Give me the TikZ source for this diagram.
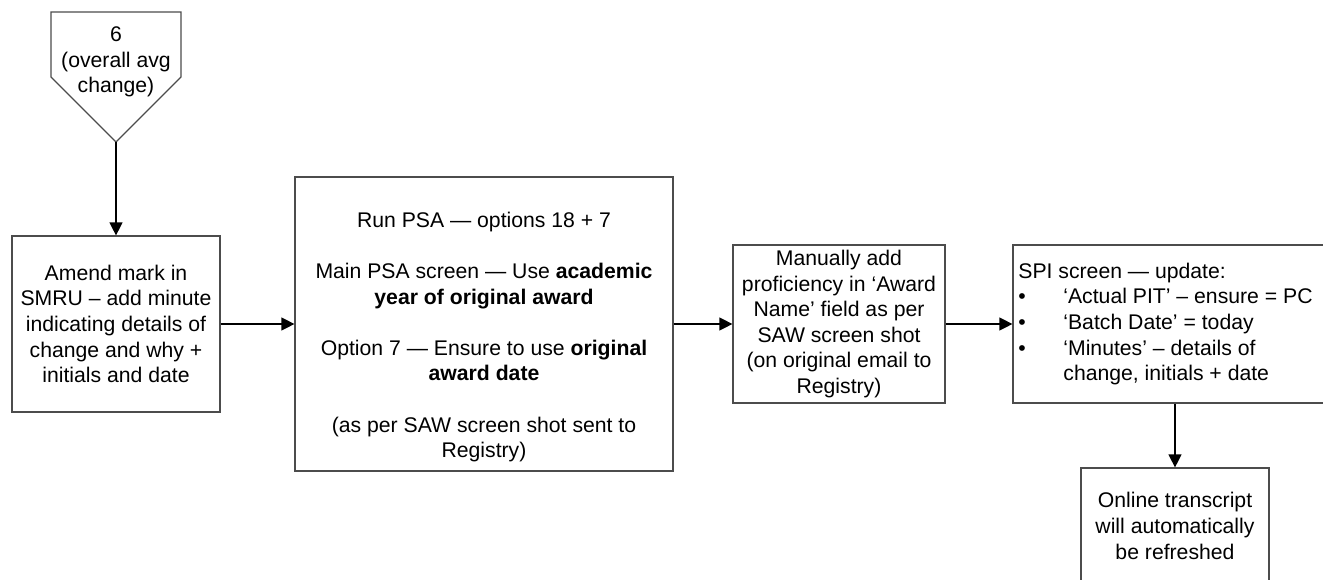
\documentclass[tikz,border=0pt]{standalone}
\usepackage{fontspec}
\setmainfont{Liberation Sans}
\usepackage{tikz}
\usetikzlibrary{arrows.meta}

\tikzset{
  stepbox/.style={draw=black!70, line width=0.6pt, inner sep=0pt, align=center},
  flow/.style={draw=black, line width=0.6pt, -{Triangle[length=6.5pt,width=6.5pt]}}
}

\begin{document}
\begin{tikzpicture}[x=0.5pt, y=-0.5pt, font=\fontsize{10.6pt}{12.8pt}\selectfont]
  \useasboundingbox (0,0) rectangle (1323,579);

  \draw[draw=black!70, line width=0.6pt] (51,12) -- (181,12) -- (181,77) -- (116,142) -- (51,77) -- cycle;
  \node[align=center] (offpage) at (116,62) {6\\(overall avg\\change)};
  \coordinate (offtip) at (116,142);

  \node[stepbox, minimum width=104pt, minimum height=88pt] (amend) at (116,324)
    {Amend mark in\\SMRU – add minute\\indicating details of\\change and why +\\initials and date};

  \node[stepbox, minimum width=189pt, minimum height=147pt] (psa) at (484,324) {};
  \node[align=center] (psatext) at (484,337)
    {Run PSA — options 18 + 7\\[12.8pt]
     Main PSA screen — Use \textbf{academic}\\\textbf{year of original award}\\[12.8pt]
     Option 7 — Ensure to use \textbf{original}\\\textbf{award date}\\[12.8pt]
     (as per SAW screen shot sent to\\Registry)};

  \node[stepbox, minimum width=106pt, minimum height=79pt] (award) at (839,324)
    {Manually add\\proficiency in ‘Award\\Name’ field as per\\SAW screen shot\\(on original email to\\Registry)};

  \node[stepbox, minimum width=162pt, minimum height=79pt] (spi) at (1175,324) {};
  \node[anchor=west, align=left, inner sep=0pt] (spitext) at (1018,324)
    {SPI screen — update:\\
     \makebox[22.5pt][l]{\textbullet}‘Actual PIT’ – ensure = PC\\
     \makebox[22.5pt][l]{\textbullet}‘Batch Date’ = today\\
     \makebox[22.5pt][l]{\textbullet}‘Minutes’ – details of\\
     \hspace*{22.5pt}change, initials + date};

  \node[stepbox, minimum width=94pt, minimum height=58pt] (online) at (1175,526)
    {Online transcript\\will automatically\\be refreshed};

  \draw[flow] (offtip) -- (amend);
  \draw[flow] (amend) -- (psa);
  \draw[flow] (psa) -- (award);
  \draw[flow] (award) -- (spi);
  \draw[flow] (spi) -- (online);
\end{tikzpicture}
\end{document}
